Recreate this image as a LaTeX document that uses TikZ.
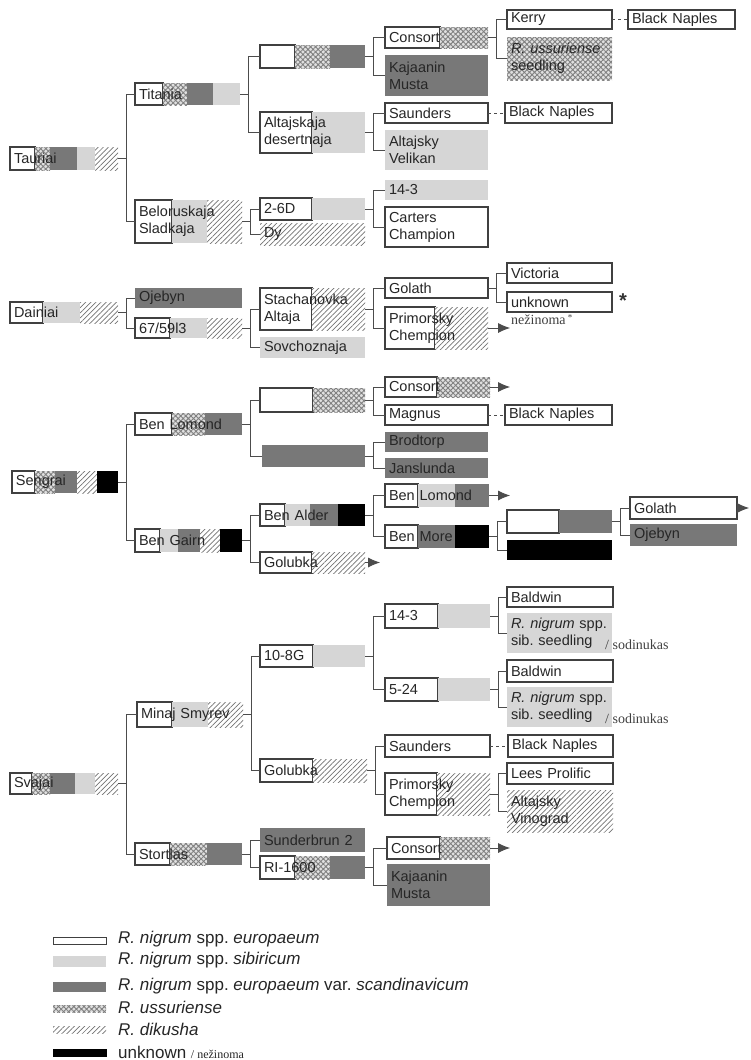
\documentclass[tikz,border=0pt]{standalone}
\usepackage{fontspec}
\setmainfont{Liberation Sans}
\newfontfamily\notefont{Liberation Serif}
\usetikzlibrary{arrows.meta,patterns.meta}

% one style per origin of the genes, used by the bar segments and the legend
\tikzset{
  eur/.style={draw=black!75,line width=1.1pt,fill=white},
  sib/.style={fill=black!16},
  sca/.style={fill=black!53},
  uss/.style={preaction={fill=black!12},pattern={Hatch[angle=45,distance=3.6pt,line width=0.9pt]},pattern color=black!50},
  dik/.style={preaction={fill=white},pattern={Lines[angle=45,distance=3.6pt,line width=0.7pt]},pattern color=black!55},
  unk/.style={fill=black},
  cvtext/.style={inner xsep=4pt,inner ysep=0pt,align=left,text=black!85,font=\fontsize{14.5}{17}\selectfont},
  link/.style={draw=black!70,line width=1pt},
  seelink/.style={link,dash pattern=on 3pt off 3pt},
  arrowlink/.style={link,-{Latex[length=12pt,width=10pt]}},
  note/.style={font=\notefont\fontsize{14}{14}\selectfont,text=black!75,inner sep=0pt},
  legtext/.style={anchor=west,inner sep=0pt,font=\fontsize{17}{18}\selectfont,text=black!85}
}

% \cultivar{name}{left}{top}{right}{bottom}{kind/from/to,...}{text}
% The segments are filled first, then the named node carries the text
% and gives the anchors for the pedigree lines.
\newcommand\cultivar[7]{%
  \foreach \kind/\segfrom/\segto in {#6}{\path[\kind] (\segfrom,#3) rectangle (\segto,#5);}%
  \pgfmathsetmacro\cvtw{#4-#2-8}%
  \pgfmathsetmacro\cvht{#5-#3}%
  \node[cvtext,text width=\cvtw pt,minimum height=\cvht pt] (#1) at ({(#2+#4)/2},{(#3+#5)/2}) {#7};%
}

\begin{document}
\begin{tikzpicture}[x=1pt,y=-1pt]
\useasboundingbox (0,0) rectangle (750,1060);
% Tauriai and its ancestors
\cultivar{tauriai}{10}{147}{118}{170}{eur/10/35,uss/35/50,sca/50/77,sib/77/95,dik/95/118}{Tauriai}
\cultivar{titania}{135}{83}{240}{105}{eur/135/163,uss/163/187,sca/187/213,sib/213/240}{Titania}
\cultivar{titaniaA}{260}{45}{365}{68}{eur/260/295,uss/295/330,sca/330/365}{}
\cultivar{altdes}{260}{112}{365}{153}{eur/260/312,sib/312/365}{Altajskaja\\desertnaja}
\cultivar{belorus}{135}{200}{242}{243}{eur/135/172,sib/172/207,dik/207/242}{Beloruskaja\\Sladkaja}
\cultivar{twosixd}{260}{198}{365}{220}{eur/260/312,sib/312/365}{2-6D}
\cultivar{dy}{260}{223}{365}{245}{dik/260/365}{Dy}
\cultivar{consortA}{385}{27}{488}{48}{eur/385/440,uss/440/488}{Consort}
\cultivar{kajaaninA}{385}{55}{488}{96}{sca/385/488}{Kajaanin\\Musta}
\cultivar{kerry}{507}{10}{612}{29}{eur/507/612}{Kerry}
\cultivar{usseed}{507}{37}{612}{80}{uss/507/612}{\textit{R.\ ussuriense}\\seedling}
\cultivar{naplesA}{628}{10}{735}{29}{eur/628/735}{Black Naples}
\cultivar{saundersA}{385}{103}{488}{123}{eur/385/488}{Saunders}
\cultivar{velikan}{385}{130}{488}{170}{sib/385/488}{Altajsky\\Velikan}
\cultivar{naplesB}{505}{103}{612}{123}{eur/505/612}{Black Naples}
\cultivar{fourteenA}{385}{180}{488}{200}{sib/385/488}{14-3}
\cultivar{carters}{385}{207}{488}{247}{eur/385/488}{Carters\\Champion}
% Dainiai
\cultivar{dainiai}{10}{302}{118}{323}{eur/10/43,sib/43/80,dik/80/118}{Dainiai}
\cultivar{ojebynA}{135}{288}{242}{308}{sca/135/242}{Ojebyn}
\cultivar{line6759}{135}{318}{242}{338}{eur/135/170,sib/170/207,dik/207/242}{67/59l3}
\cultivar{stachan}{260}{288}{365}{330}{eur/260/312,dik/312/365}{Stachanovka\\Altaja}
\cultivar{sovchoz}{260}{337}{365}{358}{sib/260/365}{Sovchoznaja}
\cultivar{golathA}{385}{278}{488}{298}{eur/385/488}{Golath}
\cultivar{primorA}{385}{307}{488}{349}{eur/385/435,dik/435/488}{Primorsky\\Chempion}
\cultivar{victoria}{507}{263}{612}{283}{eur/507/612}{Victoria}
\cultivar{unknown}{507}{292}{612}{312}{eur/507/612}{unknown}
% Sengrai
\cultivar{sengrai}{12}{471}{118}{493}{eur/12/35,uss/35/55,sca/55/77,dik/77/97,unk/97/118}{Sengrai}
\cultivar{lomondA}{135}{413}{242}{435}{eur/135/172,uss/172/205,sca/205/242}{Ben Lomond}
\cultivar{lomondP}{260}{388}{365}{412}{eur/260/313,uss/313/365}{}
\cultivar{lomondM}{262}{445}{365}{467}{sca/262/365}{}
\cultivar{consortB}{385}{377}{490}{397}{eur/385/437,uss/437/490}{Consort}
\cultivar{magnus}{385}{405}{488}{425}{eur/385/488}{Magnus}
\cultivar{naplesC}{505}{405}{612}{425}{eur/505/612}{Black Naples}
\cultivar{brodtorp}{385}{432}{488}{452}{sca/385/488}{Brodtorp}
\cultivar{janslunda}{385}{458}{488}{478}{sca/385/488}{Janslunda}
\cultivar{gairn}{135}{529}{242}{552}{eur/135/160,sib/160/178,sca/178/200,dik/200/220,unk/220/242}{Ben Gairn}
\cultivar{alder}{260}{504}{365}{526}{eur/260/285,sib/285/310,sca/310/338,unk/338/365}{Ben Alder}
\cultivar{golubkaA}{260}{552}{365}{573}{eur/260/312,dik/312/365}{Golubka}
\cultivar{lomondB}{385}{484}{489}{507}{eur/385/418,sib/418/455,sca/455/489}{Ben Lomond}
\cultivar{more}{385}{525}{489}{548}{eur/385/418,sca/418/455,unk/455/489}{Ben More}
\cultivar{moreP}{507}{510}{612}{533}{eur/507/559,sca/559/612}{}
\cultivar{moreM}{507}{540}{612}{560}{unk/507/612}{}
\cultivar{golathB}{630}{497}{737}{519}{eur/630/737}{Golath}
\cultivar{ojebynB}{630}{524}{737}{546}{sca/630/737}{Ojebyn}
% Svajai
\cultivar{svajai}{10}{773}{118}{794}{eur/10/32,uss/32/50,sca/50/75,sib/75/95,dik/95/118}{Svajai}
\cultivar{minaj}{137}{702}{243}{727}{eur/137/172,sib/172/208,dik/208/243}{Minaj Smyrev}
\cultivar{tenEight}{260}{645}{365}{667}{eur/260/313,sib/313/365}{10-8G}
\cultivar{golubkaB}{260}{759}{367}{782}{eur/260/313,dik/313/367}{Golubka}
\cultivar{fourteenB}{385}{604}{490}{628}{eur/385/438,sib/438/490}{14-3}
\cultivar{fivetwenty}{385}{678}{490}{701}{eur/385/438,sib/438/490}{5-24}
\cultivar{baldwinA}{507}{587}{613}{607}{eur/507/613}{Baldwin}
\cultivar{sibseedA}{507}{613}{612}{653}{sib/507/612}{\textit{R.\ nigrum} spp.\\sib.\ seedling}
\cultivar{baldwinB}{507}{660}{613}{682}{eur/507/613}{Baldwin}
\cultivar{sibseedB}{507}{687}{612}{727}{sib/507/612}{\textit{R.\ nigrum} spp.\\sib.\ seedling}
\cultivar{saundersB}{385}{735}{490}{757}{eur/385/490}{Saunders}
\cultivar{naplesD}{508}{735}{613}{757}{eur/508/613}{Black Naples}
\cultivar{primorB}{385}{773}{490}{815}{eur/385/437,dik/437/490}{Primorsky\\Chempion}
\cultivar{lees}{507}{763}{613}{784}{eur/507/613}{Lees Prolific}
\cultivar{vinograd}{507}{790}{613}{832}{dik/507/613}{Altajsky\\Vinograd}
\cultivar{stortlas}{135}{843}{242}{865}{eur/135/170,uss/170/207,sca/207/242}{Stortlas}
\cultivar{sunderbrun}{260}{828}{365}{852}{sca/260/365}{Sunderbrun 2}
\cultivar{rionesix}{260}{856}{365}{879}{eur/260/295,uss/295/330,sca/330/365}{RI-1600}
\cultivar{consortC}{387}{837}{490}{859}{eur/387/440,uss/440/490}{Consort}
\cultivar{kajaaninB}{387}{864}{490}{906}{sca/387/490}{Kajaanin\\Musta}
% the pedigree lines: a short stub out of the child, then up or down to each parent
\foreach \cvA/\cvB in {tauriai/titania,tauriai/belorus,titania/titaniaA,titania/altdes,
    titaniaA/consortA,titaniaA/kajaaninA,consortA/kerry,consortA/usseed,
    altdes/saundersA,altdes/velikan,belorus/twosixd,belorus/dy,
    twosixd/fourteenA,twosixd/carters,
    dainiai/ojebynA,dainiai/line6759,line6759/stachan,line6759/sovchoz,
    stachan/golathA,stachan/primorA,golathA/victoria,golathA/unknown,
    sengrai/lomondA,sengrai/gairn,lomondA/lomondP,lomondA/lomondM,
    lomondP/consortB,lomondP/magnus,lomondM/brodtorp,lomondM/janslunda,
    gairn/alder,gairn/golubkaA,alder/lomondB,alder/more,more/moreP,more/moreM,
    moreP/golathB,moreP/ojebynB,
    svajai/minaj,svajai/stortlas,minaj/tenEight,minaj/golubkaB,
    tenEight/fourteenB,tenEight/fivetwenty,fourteenB/baldwinA,fourteenB/sibseedA,
    fivetwenty/baldwinB,fivetwenty/sibseedB,golubkaB/saundersB,golubkaB/primorB,
    primorB/lees,primorB/vinograd,stortlas/sunderbrun,stortlas/rionesix,
    rionesix/consortC,rionesix/kajaaninB}
  \draw[link] (\cvA.east) -- ++(8,0) |- (\cvB.west);
% Black Naples is a sibling/derivative, shown with a dashed line
\draw[seelink] (kerry.east) -- (naplesA.west);
\draw[seelink] (saundersA.east) -- (naplesB.west);
\draw[seelink] (magnus.east) -- (naplesC.west);
\draw[seelink] (saundersB.east) -- (naplesD.west);
% arrows: the pedigree goes on elsewhere in the figure
\draw[arrowlink] (primorA.east) -- ++(22,0);
\draw[arrowlink] (consortB.east) -- ++(20,0);
\draw[arrowlink] (golubkaA.east) -- ++(15,0);
\draw[arrowlink] (lomondB.east) -- ++(21,0);
\draw[arrowlink] (golathB.east) -- ++(12,0);
\draw[arrowlink] (consortC.east) -- ++(20,0);
% Lithuanian notes
\node[font=\bfseries\fontsize{20}{20}\selectfont,text=black!80,inner sep=0pt] (unkmark) at (623,301) {*};
\node[note,anchor=base west] (nezinoma) at (511,324) {nežinoma\,\raisebox{4pt}{\fontsize{9}{9}\selectfont*}};
\node[note,anchor=base west] (sodA) at (605,649) {/ sodinukas};
\node[note,anchor=base west] (sodB) at (605,723) {/ sodinukas};
% legend
\path[eur,line width=1pt] (53,937) rectangle (106,944);
\path[sib] (53,956) rectangle (106,967);
\path[sca] (53,982) rectangle (106,992);
\path[uss] (53,1005) rectangle (106,1012);
\path[dik] (53,1026) rectangle (106,1033);
\path[unk] (53,1049) rectangle (107,1057);
\node[legtext] (legEur) at (118,939) {\textit{R.\ nigrum} spp.\ \textit{europaeum}};
\node[legtext] (legSib) at (118,960) {\textit{R.\ nigrum} spp.\ \textit{sibiricum}};
\node[legtext] (legSca) at (118,986) {\textit{R.\ nigrum} spp.\ \textit{europaeum} var.\ \textit{scandinavicum}};
\node[legtext] (legUss) at (118,1007) {\textit{R.\ ussuriense}};
\node[legtext] (legDik) at (118,1029) {\textit{R.\ dikusha}};
\node[legtext] (legUnk) at (118,1052) {unknown {\notefont\fontsize{12}{12}\selectfont/ nežinoma}};
\end{tikzpicture}
\end{document}
